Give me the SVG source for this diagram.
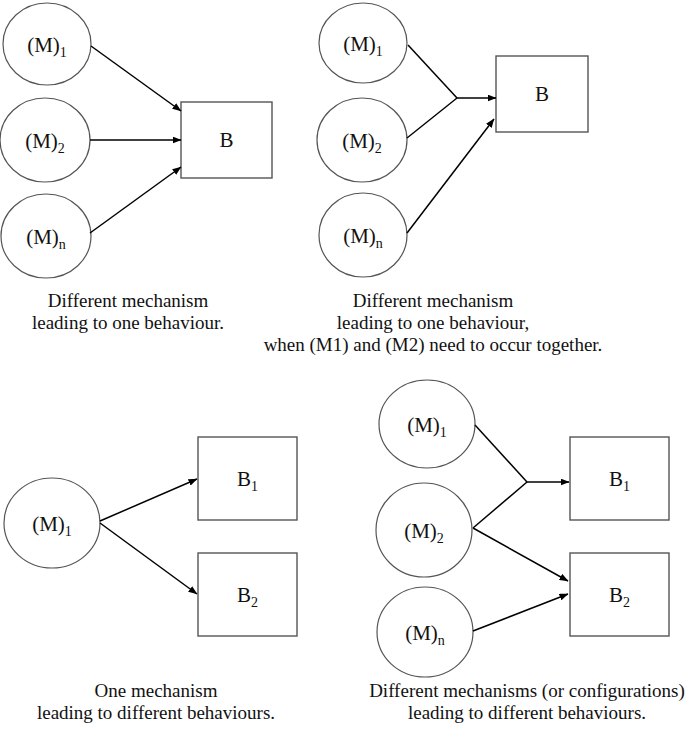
<svg xmlns="http://www.w3.org/2000/svg" width="696" height="742" viewBox="0 0 696 742">
<defs>
<marker id="ah" markerWidth="9" markerHeight="7" refX="8.5" refY="3.5" orient="auto" markerUnits="userSpaceOnUse">
<path d="M0,0 L9,3.5 L0,7 Z" fill="#000"/>
</marker>
</defs>
<style>
.bg{fill:#fff}
ellipse{fill:#fff;stroke:#555;stroke-width:1.2}
rect.n{fill:#fff;stroke:#555;stroke-width:1.4}
.lbl{font-size:21px;fill:#111;text-anchor:middle}
.sub{font-size:14px}
.cap{font-size:19px;fill:#111;text-anchor:middle}
.c line{stroke:#000;stroke-width:1.5}
.c line.a{marker-end:url(#ah)}
</style>
<rect class="bg" x="0" y="0" width="696" height="742"/>

<g font-family="Times New Roman, Liberation Serif, serif">
<!-- Panel 1 -->
<g id="p1-m1"><ellipse cx="47" cy="44" rx="44" ry="41"/><text class="lbl" x="47" y="52">(M)<tspan class="sub" dy="5">1</tspan></text></g>
<g id="p1-m2"><ellipse cx="45" cy="140" rx="45" ry="42"/><text class="lbl" x="45" y="148">(M)<tspan class="sub" dy="5">2</tspan></text></g>
<g id="p1-mn"><ellipse cx="46" cy="236" rx="45" ry="42"/><text class="lbl" x="46" y="244">(M)<tspan class="sub" dy="5">n</tspan></text></g>
<g id="p1-b"><rect class="n" x="181" y="102" width="91" height="76"/><text class="lbl" x="226.5" y="147">B</text></g>

<!-- Panel 2 -->
<g id="p2-m1"><ellipse cx="363" cy="43" rx="44" ry="40"/><text class="lbl" x="363" y="51">(M)<tspan class="sub" dy="5">1</tspan></text></g>
<g id="p2-m2"><ellipse cx="362" cy="140" rx="45" ry="42"/><text class="lbl" x="362" y="148">(M)<tspan class="sub" dy="5">2</tspan></text></g>
<g id="p2-mn"><ellipse cx="363" cy="235" rx="44" ry="42"/><text class="lbl" x="363" y="243">(M)<tspan class="sub" dy="5">n</tspan></text></g>
<g id="p2-b"><rect class="n" x="496" y="56" width="92" height="76"/><text class="lbl" x="542" y="101">B</text></g>

<!-- Panel 3 -->
<g id="p3-m1"><ellipse cx="52" cy="523" rx="48" ry="45"/><text class="lbl" x="52" y="531">(M)<tspan class="sub" dy="5">1</tspan></text></g>
<g id="p3-b1"><rect class="n" x="198" y="437" width="99" height="83"/><text class="lbl" x="247.5" y="486">B<tspan class="sub" dy="5">1</tspan></text></g>
<g id="p3-b2"><rect class="n" x="198" y="553" width="99" height="83"/><text class="lbl" x="247.5" y="602">B<tspan class="sub" dy="5">2</tspan></text></g>

<!-- Panel 4 -->
<g id="p4-m1"><ellipse cx="427" cy="424" rx="48" ry="44"/><text class="lbl" x="427" y="432">(M)<tspan class="sub" dy="5">1</tspan></text></g>
<g id="p4-m2"><ellipse cx="424" cy="530" rx="48" ry="47"/><text class="lbl" x="424" y="538">(M)<tspan class="sub" dy="5">2</tspan></text></g>
<g id="p4-mn"><ellipse cx="425" cy="632" rx="48" ry="45"/><text class="lbl" x="425" y="640">(M)<tspan class="sub" dy="5">n</tspan></text></g>
<g id="p4-b1"><rect class="n" x="570" y="437" width="99" height="83"/><text class="lbl" x="619.5" y="486">B<tspan class="sub" dy="5">1</tspan></text></g>
<g id="p4-b2"><rect class="n" x="570" y="553" width="99" height="83"/><text class="lbl" x="619.5" y="602">B<tspan class="sub" dy="5">2</tspan></text></g>

<g id="captions">
<text class="cap" x="128" y="307">Different mechanism</text>
<text class="cap" x="128" y="329">leading to one behaviour.</text>
<text class="cap" x="433" y="307">Different mechanism</text>
<text class="cap" x="433" y="329">leading to one behaviour,</text>
<text class="cap" x="433" y="351">when (M1) and (M2) need to occur together.</text>
<text class="cap" x="156" y="697">One mechanism</text>
<text class="cap" x="156" y="719">leading to different behaviours.</text>
<text class="cap" x="527" y="697">Different mechanisms (or configurations)</text>
<text class="cap" x="527" y="719">leading to different behaviours.</text>
</g>
</g>

<g id="connectors" class="c">
<line class="a" x1="91" y1="46" x2="181" y2="111"/>
<line class="a" x1="90" y1="140" x2="181" y2="140"/>
<line class="a" x1="90" y1="233" x2="181" y2="167"/>

<line x1="408" y1="45" x2="457" y2="98"/>
<line x1="407" y1="138" x2="457" y2="98"/>
<line class="a" x1="457" y1="98" x2="496" y2="98"/>
<line class="a" x1="407" y1="233" x2="494" y2="119"/>

<line class="a" x1="100" y1="521" x2="197" y2="479"/>
<line class="a" x1="100" y1="523" x2="197" y2="594"/>

<line x1="475" y1="425" x2="527" y2="482"/>
<line x1="473" y1="528" x2="527" y2="482"/>
<line class="a" x1="527" y1="482" x2="569" y2="482"/>
<line class="a" x1="473" y1="528" x2="568" y2="581"/>
<line class="a" x1="473" y1="631" x2="568" y2="594"/>
</g>
</svg>
